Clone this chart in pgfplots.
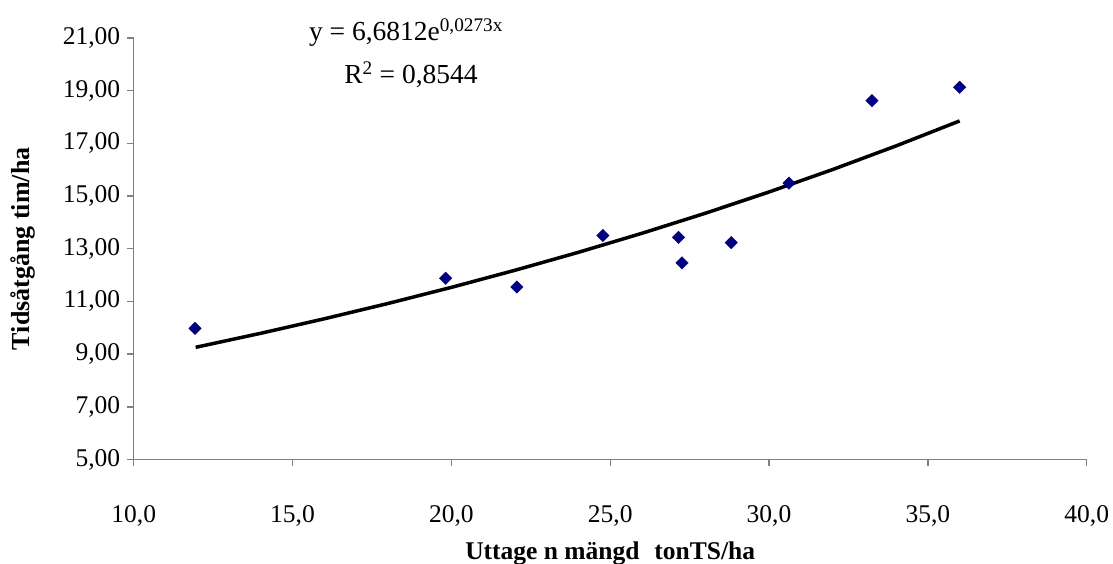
\documentclass[border=0pt]{standalone}
\usepackage{fontspec}
\setmainfont{Liberation Serif}
\usepackage{pgfplots}
\pgfplotsset{compat=1.18}
\definecolor{navyblue}{RGB}{0,0,128}
\definecolor{axgray}{RGB}{128,128,128}
\begin{document}
\begin{tikzpicture}
\useasboundingbox (-133.7pt,-104.5pt) rectangle (979.3pt,459.5pt);
\begin{axis}[
  scale only axis,
  width=953pt, height=421.5pt,
  xmin=10, xmax=40, ymin=5, ymax=21,
  xtick={10,15,...,40}, ytick={5,7,...,21},
  axis lines*=left,
  axis line style={axgray, line width=1.4pt, -},
  tick style={axgray, line width=1.4pt},
  tick align=outside,
  major tick length=7pt,
  clip=false,
  /pgf/number format/assume math mode=true,
  xticklabel style={/pgf/number format/.cd, fixed, fixed zerofill, precision=1, use comma, /tikz/.cd, font=\fontsize{25.5}{29}\selectfont, anchor=center, yshift=-49pt},
  yticklabel style={/pgf/number format/.cd, fixed, fixed zerofill, precision=2, use comma, /tikz/.cd, font=\fontsize{25.5}{29}\selectfont, anchor=east, xshift=-3pt},
  xlabel={Uttage n mängd\,\, tonTS/ha},
  ylabel={Tidsåtgång tim/ha},
  xlabel style={font=\fontsize{25.5}{29}\selectfont\bfseries, at={(axis description cs:0.5,-0.222)}, anchor=center},
  ylabel style={font=\fontsize{26}{29}\selectfont\bfseries, at={(axis description cs:-0.1165,0.5)}, anchor=center},
]
\addplot[black, line width=3.5pt] coordinates {
(11.95,9.258) (14,9.791) (16,10.341) (18,10.921) (20,11.534) (22,12.182)
(24,12.865) (26,13.587) (28,14.350) (30,15.155) (32,16.006) (34,16.904) (36,17.852)
};
\addplot[only marks, mark=square*, mark size=4.4pt, color=navyblue, mark options={rotate=45, fill=navyblue, draw=navyblue}] coordinates {
(11.93,9.98) (19.82,11.88) (22.06,11.55) (24.77,13.50) (27.15,13.43)
(27.26,12.46) (28.81,13.23) (30.63,15.49) (33.24,18.62) (36.00,19.13)
};
\node[anchor=base, font=\fontsize{27.5}{30}\selectfont] at (axis description cs:0.2857,0.995) {y = 6,6812e\textsuperscript{0,0273x}};
\node[anchor=base, font=\fontsize{27.5}{30}\selectfont] at (axis description cs:0.291,0.893) {R\textsuperscript{2} = 0,8544};
\end{axis}
\end{tikzpicture}
\end{document}
